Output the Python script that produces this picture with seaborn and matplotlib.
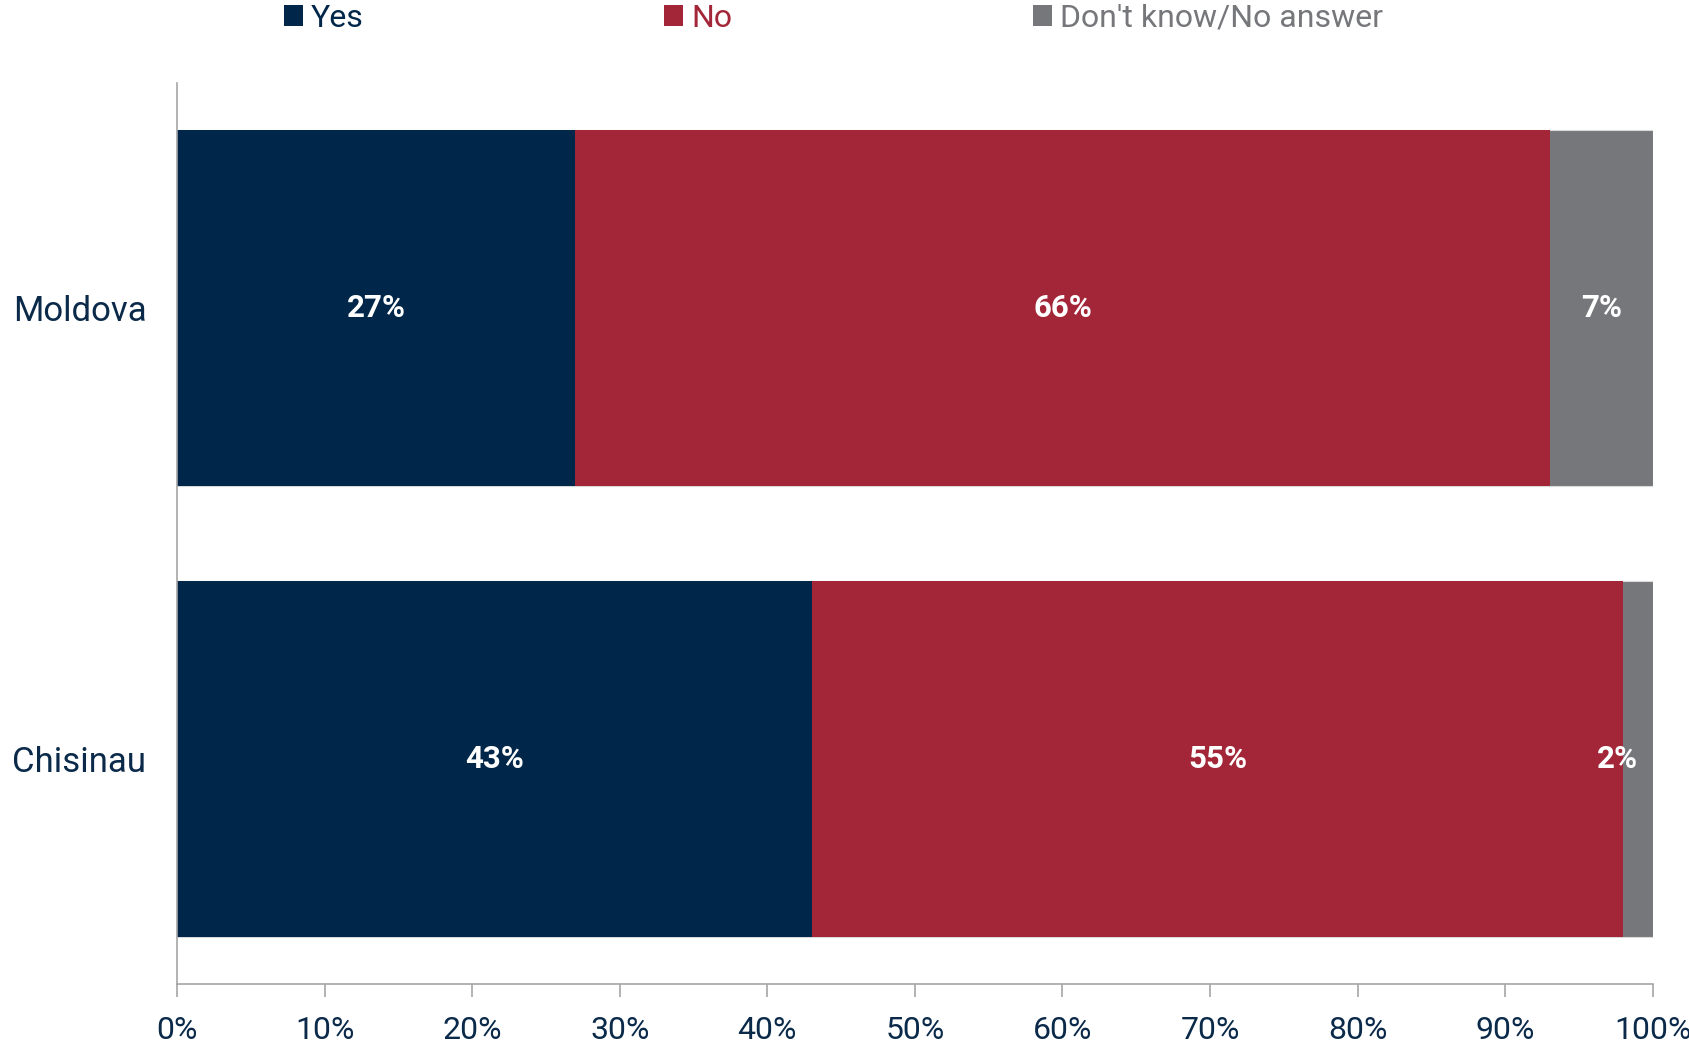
import matplotlib
matplotlib.use("Agg")
import matplotlib.pyplot as plt
from matplotlib import font_manager
from matplotlib.patches import Patch
import seaborn as sns
import pandas as pd
import numpy as np

# ---- data ----
regions = ["Moldova", "Chisinau"]
series_names = ["Yes", "No", "Don't know/No answer"]
yes_vals = [27, 43]
no_vals = [66, 55]
dk_vals = [7, 2]
x_ticks = [0, 10, 20, 30, 40, 50, 60, 70, 80, 90, 100]
x_tick_labels = [f"{t}%" for t in x_ticks]

colors = ["#002649", "#A32638", "#76777B"]
text_color = "#0B2A4A"
axis_gray = "#A6A6A6"

sns.set_theme(style="white")
avail = {f.name for f in font_manager.fontManager.ttflist}
fam = None
for cand in ["Liberation Sans Narrow", "Roboto", "DejaVu Sans"]:
    if cand in avail:
        fam = cand
        break
plt.rcParams["font.family"] = [fam, "DejaVu Sans"]

df = pd.DataFrame({"region": regions, "Yes": yes_vals, "No": no_vals, "DK": dk_vals})
df["cum_no"] = df["Yes"] + df["No"]
df["cum_dk"] = df["cum_no"] + df["DK"]

fig = plt.figure(figsize=(16.9, 10.45), dpi=100)
ax = fig.add_axes([0.1047, 0.0584, 0.8733, 0.8622])

bw = 0.79
sns.barplot(data=df, y="region", x="cum_dk", color=colors[2], width=bw, ax=ax,
            orient="h", saturation=1, edgecolor="#D9D9D9", linewidth=0.8)
sns.barplot(data=df, y="region", x="cum_no", color=colors[1], width=bw, ax=ax,
            orient="h", saturation=1, linewidth=0)
sns.barplot(data=df, y="region", x="Yes", color=colors[0], width=bw, ax=ax,
            orient="h", saturation=1, linewidth=0)

# value labels
for i, r in df.iterrows():
    segs = [(0, r["Yes"]), (r["Yes"], r["No"]), (r["cum_no"], r["DK"])]
    for left, w in segs:
        cx = left + w / 2
        cx = min(cx, 100 - 2.4)
        ax.text(cx, i, f"{int(w)}%", ha="center", va="center", color="white",
                fontsize=22.5, fontweight="bold")

ax.set_xlim(0, 100)
ax.set_ylim(1.5, -0.5)
ax.set_xticks(x_ticks)
ax.set_xticklabels(x_tick_labels)
ax.set_xlabel("")
ax.set_ylabel("")
ax.tick_params(axis="x", which="both", bottom=True, length=9, width=1.2,
               color=axis_gray, labelsize=23, labelcolor=text_color, pad=14)
ax.tick_params(axis="y", left=False, labelsize=25, labelcolor=text_color, pad=16)
for s in ["top", "right"]:
    ax.spines[s].set_visible(False)
for s in ["left", "bottom"]:
    ax.spines[s].set_color(axis_gray)
    ax.spines[s].set_linewidth(1.2)

handles = [Patch(facecolor=c, edgecolor="none") for c in colors]
leg = fig.legend(handles, series_names, loc="upper left", bbox_to_anchor=(0.151, 1.024),
                 ncol=3, frameon=False, fontsize=23, handlelength=0.6, handleheight=0.6,
                 handletextpad=0.25, columnspacing=9.4)
for t, c in zip(leg.get_texts(), colors):
    t.set_color(c)

fig.savefig("out.png", dpi=100)
